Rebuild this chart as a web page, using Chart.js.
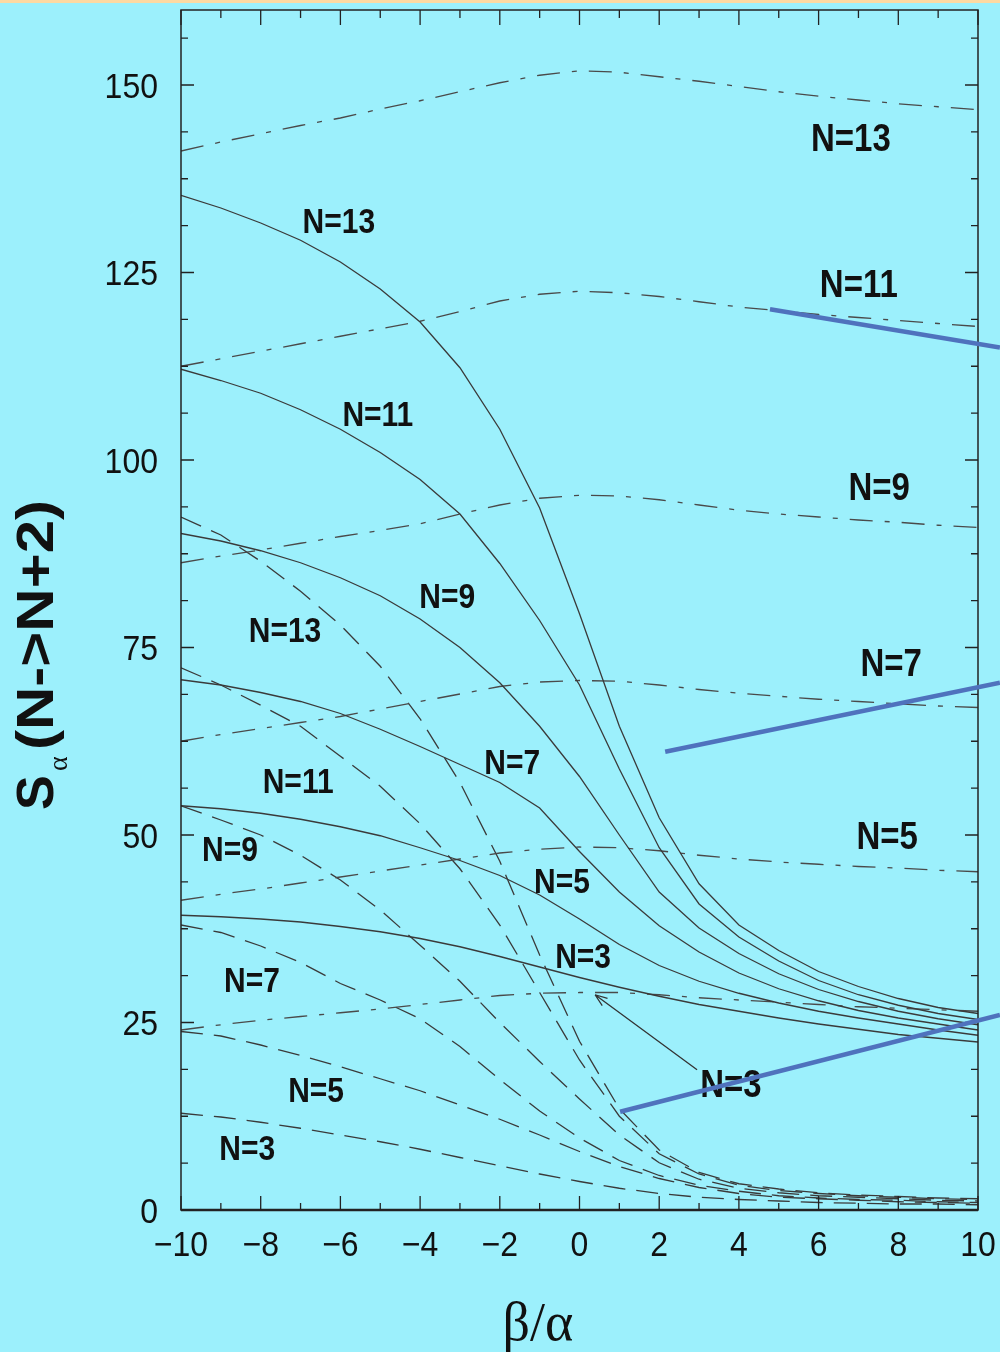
<!DOCTYPE html>
<html>
<head>
<meta charset="utf-8">
<script src="https://cdn.jsdelivr.net/npm/chart.js@4.4.1/dist/chart.umd.min.js"></script>
<style>
  html, body { margin: 0; padding: 0; background: #9cf0fc; }
  canvas { display: block; }
</style>
</head>
<body>
<canvas id="chart" width="1000" height="1352"></canvas>
<script>
// beta/alpha grid on which every curve is tabulated
const betaOverAlpha = [-10, -9, -8, -7, -6, -5, -4, -3, -2, -1, 0, 1, 2, 3, 4, 5, 6, 7, 8, 9, 10];

// solid curves
const solid13 = [135.3, 133.6, 131.6, 129.3, 126.4, 122.8, 118.4, 112.3, 104.1, 93.6, 79.5, 64.5, 52.3, 43.5, 38.0, 34.6, 31.8, 29.8, 28.2, 27.0, 26.2];
const solid11 = [112.1, 110.6, 108.9, 106.7, 104.1, 101.0, 97.4, 92.8, 86.2, 78.6, 70.0, 58.8, 48.3, 40.8, 36.4, 33.2, 30.6, 28.7, 27.3, 26.2, 25.4];
const solid9  = [90.2, 89.2, 87.9, 86.3, 84.3, 81.9, 78.8, 75.0, 70.3, 64.5, 57.8, 50.0, 42.4, 37.6, 34.2, 31.5, 29.4, 27.8, 26.5, 25.5, 24.7];
const solid7  = [70.7, 70.0, 69.0, 67.8, 66.2, 64.1, 61.8, 59.4, 57.0, 53.6, 47.8, 42.4, 37.9, 34.4, 31.6, 29.5, 27.9, 26.6, 25.6, 24.8, 24.0];
const solid5  = [53.9, 53.5, 52.9, 52.1, 51.1, 49.9, 48.3, 46.6, 44.6, 42.0, 38.8, 35.4, 32.6, 30.5, 28.9, 27.6, 26.5, 25.6, 24.8, 24.0, 23.3];
const solid3  = [39.3, 39.1, 38.8, 38.4, 37.8, 37.1, 36.2, 35.1, 33.8, 32.4, 31.0, 29.7, 28.5, 27.4, 26.5, 25.6, 24.8, 24.1, 23.4, 22.9, 22.4];

// dash-dot curves
const dashDot13 = [141.2, 142.4, 143.5, 144.6, 145.6, 146.8, 147.9, 149.1, 150.3, 151.3, 151.9, 151.7, 151.1, 150.5, 149.8, 149.1, 148.5, 148.0, 147.5, 147.1, 146.7];
const dashDot11 = [112.5, 113.5, 114.5, 115.5, 116.5, 117.5, 118.5, 119.8, 121.2, 122.1, 122.5, 122.3, 121.8, 121.1, 120.4, 119.9, 119.4, 119.0, 118.6, 118.2, 117.8];
const dashDot9  = [86.3, 87.2, 88.0, 88.9, 89.8, 90.6, 91.5, 92.8, 94.0, 94.9, 95.3, 95.2, 94.7, 94.0, 93.3, 92.8, 92.4, 92.0, 91.7, 91.3, 91.0];
const dashDot7  = [62.5, 63.4, 64.2, 65.0, 65.8, 66.8, 67.8, 68.8, 69.8, 70.4, 70.6, 70.5, 70.0, 69.4, 68.9, 68.5, 68.1, 67.8, 67.5, 67.2, 67.0];
const dashDot5  = [41.3, 42.1, 42.8, 43.6, 44.4, 45.2, 46.0, 46.8, 47.6, 48.1, 48.4, 48.3, 47.9, 47.3, 46.8, 46.4, 46.1, 45.8, 45.6, 45.3, 45.1];
const dashDot3  = [24.0, 24.7, 25.3, 25.8, 26.3, 26.8, 27.4, 28.0, 28.6, 28.9, 29.0, 29.0, 28.7, 28.3, 28.0, 27.7, 27.4, 27.1, 26.9, 26.7, 26.5];

// long-dash curves
const dashed13 = [92.4, 90.0, 86.5, 82.5, 78.0, 72.5, 65.5, 57.0, 46.5, 34.0, 22.5, 13.5, 8.0, 5.0, 3.5, 2.8, 2.3, 2.0, 1.8, 1.6, 1.5];
const dashed11 = [72.3, 70.0, 67.3, 64.5, 60.5, 56.5, 51.5, 45.5, 38.0, 29.0, 20.0, 12.5, 7.5, 4.8, 3.3, 2.6, 2.2, 1.9, 1.7, 1.5, 1.4];
const dashed9  = [53.9, 52.0, 50.0, 47.3, 44.0, 40.0, 35.3, 30.5, 25.0, 19.8, 14.8, 10.0, 6.3, 4.1, 2.9, 2.3, 1.9, 1.7, 1.5, 1.3, 1.2];
const dashed7  = [38.0, 37.0, 35.2, 33.0, 30.2, 28.0, 25.5, 21.8, 17.4, 13.2, 9.6, 6.6, 4.6, 3.3, 2.5, 1.9, 1.6, 1.4, 1.3, 1.1, 1.0];
const dashed5  = [23.8, 23.2, 22.0, 20.6, 19.1, 17.5, 15.9, 14.0, 12.1, 10.0, 7.8, 5.8, 4.2, 3.0, 2.2, 1.7, 1.5, 1.3, 1.1, 1.0, 0.9];
const dashed3  = [12.9, 12.4, 11.7, 10.9, 10.0, 9.1, 8.1, 7.0, 5.9, 4.8, 3.8, 2.9, 2.2, 1.7, 1.4, 1.2, 1.0, 0.9, 0.8, 0.8, 0.7];

// axis ticks
const xTickValues = [-10, -8, -6, -4, -2, 0, 2, 4, 6, 8, 10];
const xTickLabels = ['\u221210', '\u22128', '\u22126', '\u22124', '\u22122', '0', '2', '4', '6', '8', '10'];
const yTickValues = [0, 25, 50, 75, 100, 125, 150];
const yTickLabels = ['0', '25', '50', '75', '100', '125', '150'];

// curve labels: text, position in data units, font size
const curveLabels = [
  ['N=13', 6.81, 143.1, 33], ['N=11', 7.01, 123.6, 33], ['N=9', 7.52, 96.5, 33],
  ['N=7', 7.82, 73.1, 33], ['N=5', 7.72, 50.0, 33],
  ['N=13', -6.04, 132.0, 30], ['N=11', -5.06, 106.2, 30], ['N=9', -3.32, 81.9, 30],
  ['N=7', -1.69, 59.8, 30], ['N=5', -0.44, 44.0, 30], ['N=3', 0.09, 34.0, 30],
  ['N=13', -7.39, 77.4, 30], ['N=11', -7.06, 57.3, 30], ['N=9', -8.77, 48.2, 30],
  ['N=7', -8.22, 30.8, 30], ['N=5', -6.61, 16.1, 30], ['N=3', -8.34, 8.4, 30],
  ['N=3', 3.80, 16.9, 33]
];
// arrow from the lone label to the N=3 dash-dot curve
const arrowFrom = [2.95, 18.7];
const arrowTo = [0.39, 28.7];
// blue pointer lines
const pointerLines = [
  [[4.78, 120.1], [10.55, 115.0]],
  [[2.15, 61.1], [10.55, 70.3]],
  [[1.02, 13.1], [10.55, 26.0]]
];

const SANS = '"Liberation Sans", Arial, Helvetica, sans-serif';
const SERIF = '"Liberation Serif", "DejaVu Serif", serif';
const pts = vals => betaOverAlpha.map((x, i) => ({ x: x, y: vals[i] }));

const solidStyle = { borderColor: '#3a3a3a', borderWidth: 1.3, borderDash: [] };
const dashDotStyle = { borderColor: '#4a4a4a', borderWidth: 1.3, borderDash: [23, 12, 5, 12] };
const dashedStyle = { borderColor: '#3a3a3a', borderWidth: 1.3, borderDash: [22, 11] };

const datasets = [
  [solid13, solidStyle], [solid11, solidStyle], [solid9, solidStyle],
  [solid7, solidStyle], [solid5, solidStyle], [solid3, solidStyle],
  [dashDot13, dashDotStyle], [dashDot11, dashDotStyle], [dashDot9, dashDotStyle],
  [dashDot7, dashDotStyle], [dashDot5, dashDotStyle], [dashDot3, dashDotStyle],
  [dashed13, dashedStyle], [dashed11, dashedStyle], [dashed9, dashedStyle],
  [dashed7, dashedStyle], [dashed5, dashedStyle], [dashed3, dashedStyle]
].map(([vals, st]) => Object.assign({ data: pts(vals), pointRadius: 0, fill: false, tension: 0 }, st));

// text drawn slightly taller than wide, centred on (px, py)
function label(ctx, text, px, py, font, size, sy, align) {
  ctx.save();
  ctx.translate(px, py);
  ctx.scale(1, sy);
  ctx.font = font;
  ctx.textAlign = align || 'center';
  ctx.textBaseline = 'alphabetic';
  ctx.fillStyle = '#111';
  ctx.fillText(text, 0, 0.358 * size);
  ctx.restore();
}

const decorations = {
  id: 'decorations',
  beforeDraw(chart) {
    const c = chart.ctx;
    c.save();
    c.fillStyle = '#9cf0fc';
    c.fillRect(0, 0, chart.width, chart.height);
    c.fillStyle = '#fdd9a2';
    c.fillRect(0, 0, chart.width, 3);
    c.restore();
  },
  afterDatasetsDraw(chart) {
    const c = chart.ctx, a = chart.chartArea;
    const xs = chart.scales.x, ys = chart.scales.y;
    c.save();
    // frame
    c.strokeStyle = '#222';
    c.lineWidth = 1.5;
    c.strokeRect(a.left, a.top, a.right - a.left, a.bottom - a.top);
    c.lineWidth = 2.5;
    c.beginPath(); c.moveTo(a.left, a.bottom); c.lineTo(a.right, a.bottom); c.stroke();
    // inward tick marks on all four sides
    c.lineWidth = 1.3;
    c.beginPath();
    for (let v = -10; v <= 10; v += 1) {
      const px = xs.getPixelForValue(v);
      const major = v % 2 === 0;
      c.moveTo(px, a.bottom); c.lineTo(px, a.bottom - (major ? 14 : 7));
      c.moveTo(px, a.top); c.lineTo(px, a.top + (major ? 15 : 8));
    }
    for (let v = 0; v <= 160; v += 6.25) {
      const py = ys.getPixelForValue(v);
      const major = Math.abs(v % 25) < 1e-6;
      c.moveTo(a.left, py); c.lineTo(a.left + (major ? 13 : 7), py);
      c.moveTo(a.right, py); c.lineTo(a.right - (major ? 13 : 7), py);
    }
    c.stroke();

    // tick labels
    const tickFont = '32px ' + SANS;
    xTickValues.forEach((v, i) => {
      label(c, xTickLabels[i], xs.getPixelForValue(v), a.bottom + 33, tickFont, 32, 1.1, 'center');
    });
    yTickValues.forEach((v, i) => {
      label(c, yTickLabels[i], a.left - 23, ys.getPixelForValue(v), tickFont, 32, 1.1, 'right');
    });

    // curve labels
    curveLabels.forEach(([t, x, y, s]) => {
      label(c, t, xs.getPixelForValue(x), ys.getPixelForValue(y), 'bold ' + s + 'px ' + SANS, s, 1.18);
    });

    // arrow
    const x0 = xs.getPixelForValue(arrowFrom[0]), y0 = ys.getPixelForValue(arrowFrom[1]);
    const x1 = xs.getPixelForValue(arrowTo[0]), y1 = ys.getPixelForValue(arrowTo[1]);
    const ang = Math.atan2(y1 - y0, x1 - x0);
    c.strokeStyle = '#333';
    c.lineWidth = 1.3;
    c.beginPath();
    c.moveTo(x0, y0); c.lineTo(x1, y1);
    c.moveTo(x1, y1); c.lineTo(x1 - 13 * Math.cos(ang - 0.35), y1 - 13 * Math.sin(ang - 0.35));
    c.moveTo(x1, y1); c.lineTo(x1 - 13 * Math.cos(ang + 0.35), y1 - 13 * Math.sin(ang + 0.35));
    c.stroke();

    // y axis title: S_alpha(N->N+2)
    c.fillStyle = '#111';
    c.translate(53, 810);
    c.rotate(-Math.PI / 2);
    c.textBaseline = 'alphabetic';
    c.textAlign = 'left';
    c.font = 'bold 52px ' + SANS;
    c.fillText('S', 0, 0);
    c.font = '28px ' + SERIF;
    c.fillText('\u03b1', 39, 14);
    c.font = 'bold 52px ' + SANS;
    const rest = '(N->N+2)';
    const w = c.measureText(rest).width;
    c.save();
    c.translate(60, 0);
    c.scale(250 / w, 1);
    c.fillText(rest, 0, 0);
    c.restore();
    c.restore();

    // x axis title
    c.save();
    c.fillStyle = '#111';
    c.font = '54px ' + SERIF;
    c.textAlign = 'center';
    c.textBaseline = 'alphabetic';
    c.fillText('\u03b2/\u03b1', 538, 1340);
    c.restore();
  },
  afterDraw(chart) {
    const c = chart.ctx;
    const xs = chart.scales.x, ys = chart.scales.y;
    c.save();
    c.strokeStyle = '#4f72bd';
    c.lineWidth = 4.5;
    c.lineCap = 'butt';
    pointerLines.forEach(([p, q]) => {
      c.beginPath();
      c.moveTo(xs.getPixelForValue(p[0]), ys.getPixelForValue(p[1]));
      c.lineTo(xs.getPixelForValue(q[0]), ys.getPixelForValue(q[1]));
      c.stroke();
    });
    c.restore();
  }
};

new Chart(document.getElementById('chart'), {
  type: 'line',
  data: { datasets: datasets },
  options: {
    responsive: false,
    animation: false,
    devicePixelRatio: 1,
    layout: { padding: { left: 0, right: 22, top: 10, bottom: 0 } },
    plugins: { legend: { display: false }, tooltip: { enabled: false } },
    scales: {
      x: {
        type: 'linear', min: -10, max: 10,
        grid: { display: false }, border: { display: false },
        ticks: { display: false },
        afterFit: s => { s.height = 142; }
      },
      y: {
        type: 'linear', min: 0, max: 160,
        grid: { display: false }, border: { display: false },
        ticks: { display: false },
        afterFit: s => { s.width = 181; }
      }
    }
  },
  plugins: [decorations]
});
</script>
</body>
</html>
